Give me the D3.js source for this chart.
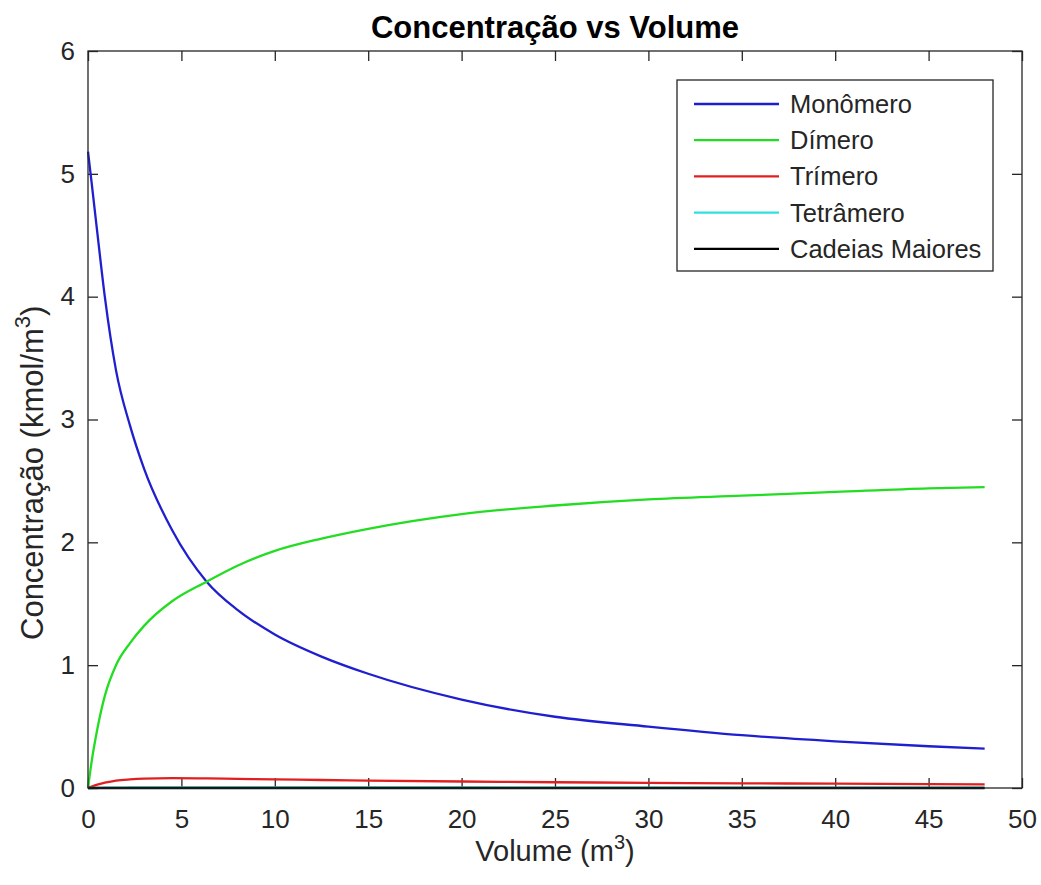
<!DOCTYPE html>
<html lang="pt">
  <head>
    <meta charset="utf-8">
    <title>Concentração vs Volume</title>
    <script src="https://d3js.org/d3.v7.min.js"></script>
    <style>
      body { margin: 0; background: #fff; }
      svg text { font-family: "Liberation Sans", Arial, sans-serif; fill: #262626; }
      .axis path { display: none; }
      .axis line { stroke: #262626; stroke-width: 1.3; }
      .axis text { font-size: 26px; }
    </style>
  </head>
  <body>
    <div id="chart"></div>
    <script>
      // dados
      var volume     = [0, 0.2, 0.5, 0.9, 1.5, 2.25, 3, 4.5, 6.35, 8, 10, 12.5, 15, 20, 25, 30, 35, 40, 45, 48];
      var monomero   = [5.18, 4.92, 4.52, 4.0, 3.4, 2.95, 2.6, 2.1, 1.68, 1.45, 1.25, 1.07, 0.93, 0.72, 0.58, 0.50, 0.43, 0.38, 0.34, 0.32];
      var dimero     = [0, 0.22, 0.48, 0.75, 1.0, 1.18, 1.32, 1.52, 1.68, 1.81, 1.93, 2.03, 2.11, 2.23, 2.30, 2.35, 2.38, 2.41, 2.44, 2.45];
      var trimero    = [0, 0.012, 0.028, 0.043, 0.06, 0.07, 0.076, 0.08, 0.078, 0.074, 0.07, 0.065, 0.06, 0.053, 0.047, 0.042, 0.038, 0.035, 0.032, 0.03];
      var tetramero  = [0, 0, 0.001, 0.002, 0.003, 0.004, 0.005, 0.005, 0.005, 0.005, 0.005, 0.004, 0.004, 0.004, 0.003, 0.003, 0.003, 0.003, 0.002, 0.002];
      var maiores    = [0, 0, 0, 0, 0, 0, 0, 0, 0, 0, 0, 0, 0, 0, 0, 0, 0, 0, 0, 0];

      var nomes = ["Monômero", "Dímero", "Trímero", "Tetrâmero", "Cadeias Maiores"];
      var cores = ["#1f1fd0", "#22dd22", "#e02020", "#30e0e0", "#000000"];
      var xTicks = [0, 5, 10, 15, 20, 25, 30, 35, 40, 45, 50];
      var yTicks = [0, 1, 2, 3, 4, 5, 6];

      var series = [monomero, dimero, trimero, tetramero, maiores];

      var w = 1041, h = 885;
      var pLeft = 88, pRight = 1022, pTop = 51, pBottom = 788;

      var x = d3.scaleLinear().domain([0, 50]).range([pLeft, pRight]);
      var y = d3.scaleLinear().domain([0, 6]).range([pBottom, pTop]);

      var svg = d3.select("#chart").append("svg")
                  .attr("width", w)
                  .attr("height", h);

      // eixos (ticks para dentro)
      svg.append("g").attr("class", "axis")
         .attr("transform", "translate(0," + pBottom + ")")
         .call(d3.axisBottom(x).tickValues(xTicks).tickFormat(d3.format("d"))
                 .tickSizeInner(-10).tickSizeOuter(0).tickPadding(22));
      svg.append("g").attr("class", "axis")
         .attr("transform", "translate(0," + pTop + ")")
         .call(d3.axisTop(x).tickValues(xTicks).tickSizeInner(-10).tickSizeOuter(0).tickFormat(""));
      svg.append("g").attr("class", "axis")
         .attr("transform", "translate(" + pLeft + ",0)")
         .call(d3.axisLeft(y).tickValues(yTicks).tickFormat(d3.format("d"))
                 .tickSizeInner(-10).tickSizeOuter(0).tickPadding(13));
      svg.append("g").attr("class", "axis")
         .attr("transform", "translate(" + pRight + ",0)")
         .call(d3.axisRight(y).tickValues(yTicks).tickSizeInner(-10).tickSizeOuter(0).tickFormat(""));

      var line = d3.line()
                   .x(function(d, i) { return x(volume[i]); })
                   .y(function(d) { return y(d); })
                   .curve(d3.curveMonotoneX);

      svg.selectAll("path.serie")
         .data(series)
         .enter()
         .append("path")
         .attr("class", "serie")
         .attr("d", line)
         .attr("fill", "none")
         .attr("stroke", function(d, i) { return cores[i]; })
         .attr("stroke-width", 2.3);

      svg.append("rect")
         .attr("x", pLeft).attr("y", pTop)
         .attr("width", pRight - pLeft).attr("height", pBottom - pTop)
         .attr("fill", "none").attr("stroke", "#262626").attr("stroke-width", 1.3);

      // título e rótulos
      svg.append("text")
         .attr("x", (pLeft + pRight) / 2).attr("y", 38)
         .attr("text-anchor", "middle")
         .style("font-size", "31px").style("font-weight", "bold")
         .style("fill", "#000")
         .text("Concentração vs Volume");

      var xl = svg.append("text")
         .attr("x", (pLeft + pRight) / 2).attr("y", 861)
         .attr("text-anchor", "middle")
         .style("font-size", "29px");
      xl.append("tspan").text("Volume (m");
      xl.append("tspan").attr("dy", -12).style("font-size", "20px").text("3");
      xl.append("tspan").attr("dy", 12).text(")");

      var yl = svg.append("text")
         .attr("transform", "translate(43,640) rotate(-90)")
         .attr("text-anchor", "start")
         .style("font-size", "31px");
      yl.append("tspan").text("Concentração (kmol/m");
      yl.append("tspan").attr("dy", -13).style("font-size", "22px").text("3");
      yl.append("tspan").attr("dy", 13).text(")");

      // legenda
      var leg = svg.append("g");
      leg.append("rect")
         .attr("x", 677).attr("y", 80).attr("width", 316).attr("height", 191)
         .attr("fill", "#fff").attr("stroke", "#262626").attr("stroke-width", 1.3);

      var itens = leg.selectAll("g.item")
         .data(nomes)
         .enter()
         .append("g")
         .attr("class", "item")
         .attr("transform", function(d, i) { return "translate(0," + (104 + i * 36.2) + ")"; });
      itens.append("line")
         .attr("x1", 694).attr("x2", 779)
         .attr("stroke", function(d, i) { return cores[i]; })
         .attr("stroke-width", 2.3);
      itens.append("text")
         .attr("x", 790).attr("y", 9)
         .style("font-size", "25.5px")
         .text(function(d) { return d; });
    </script>
  </body>
</html>
